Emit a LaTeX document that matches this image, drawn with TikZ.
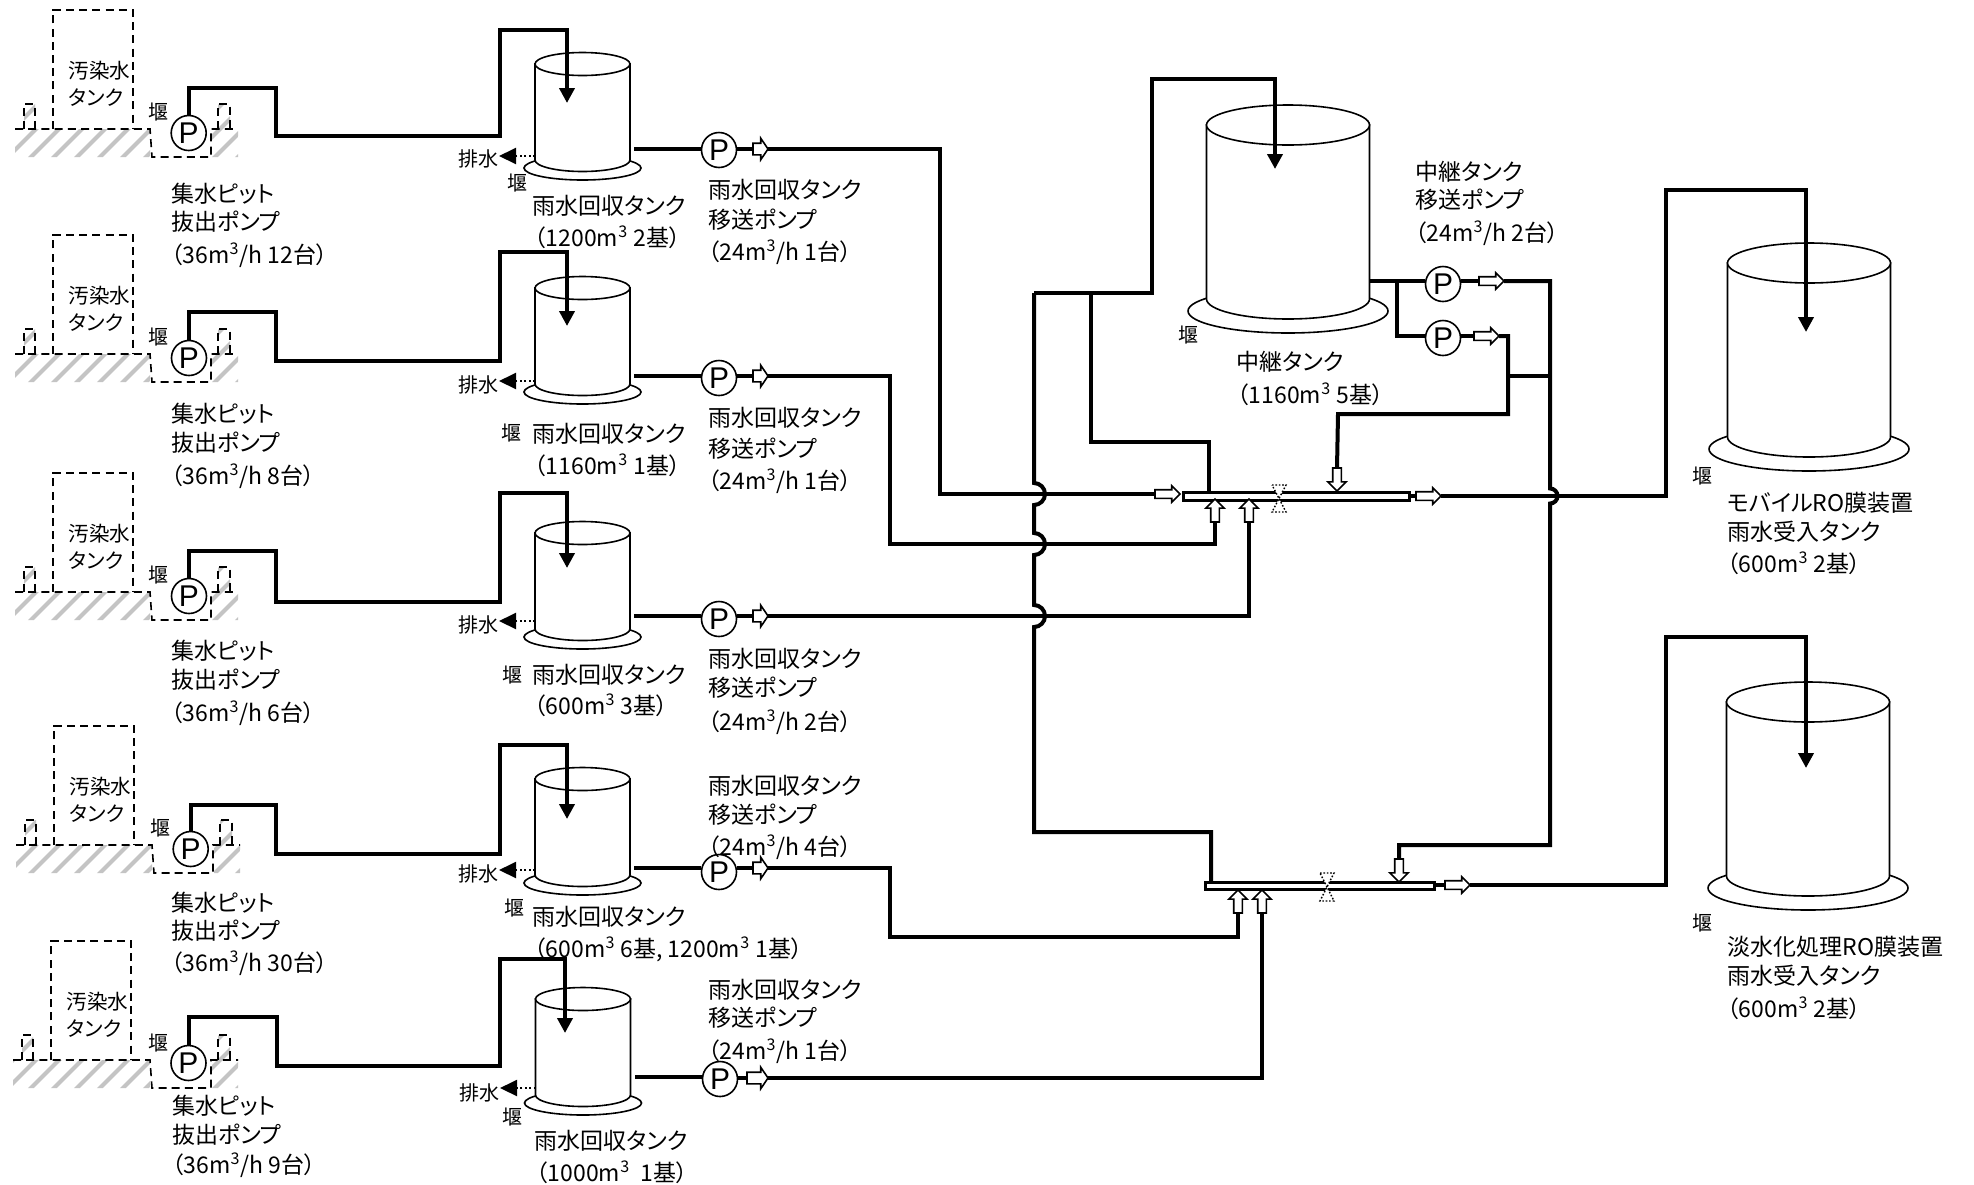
\documentclass[tikz,border=0pt]{standalone}
\usepackage{fontspec}
\setmainfont{Noto Sans CJK JP}[RawFeature={+palt}]
\newfontfamily\pumpfont{Liberation Sans}
\usetikzlibrary{arrows.meta,shapes.arrows}
\definecolor{hatchgray}{HTML}{C4C4C4}
\tikzset{
  pipe/.style={line width=2pt,line join=miter,line cap=butt},
  tipped/.style={-{Triangle[width=7.5pt,length=7.5pt]}},
  tankline/.style={line width=.8pt,fill=white},
  dashline/.style={line width=.8pt,dash pattern=on 4pt off 2.6pt},
  drainline/.style={line width=1pt,dash pattern=on 1pt off 1.2pt,-{Triangle[width=8pt,length=8.5pt]}},
  pump/.style={circle,draw,line width=.8pt,fill=white,inner sep=0pt,minimum size=17.5pt,font=\pumpfont\fontsize{15}{15}\selectfont},
  lbl/.style={anchor=west,inner sep=0pt,font=\fontsize{11.5}{13}\selectfont},
  lbls/.style={anchor=west,inner sep=0pt,font=\fontsize{10.3}{12}\selectfont},
  weir/.style={inner sep=0pt,font=\fontsize{10}{12}\selectfont},
  drn/.style={anchor=east,inner sep=0pt,font=\fontsize{10}{12}\selectfont},
  carrow/.style={single arrow,draw,fill=white,line width=.8pt,inner sep=0pt,outer sep=0pt,anchor=tail,
    minimum height=12.5pt,text height=3.5pt,text depth=0pt,single arrow head extend=2pt,single arrow tip angle=90},
  uarrow/.style={carrow,minimum height=11.5pt,single arrow head extend=2.4pt},
  sarrow/.style={single arrow,draw,fill=white,line width=.8pt,inner sep=0pt,outer sep=0pt,anchor=tail,
    minimum height=7.5pt,text height=5pt,text depth=0pt,single arrow head extend=2.5pt,single arrow tip angle=112},
  header/.style={draw,fill=white,line width=1.5pt,inner sep=0pt},
  valve/.style={line width=.7pt,dash pattern=on .8pt off .9pt,fill=white},
}
% name, cx, top, rx, ry, h, base rx, base offset, base ry
\newcommand\tankshape[9]{%
  \draw[tankline] (#2,#3+#8) ellipse [x radius=#7*0.5pt,y radius=#9*0.5pt];
  \draw[tankline] (#2-#4,#3) -- (#2-#4,#3+#6) arc[start angle=180,end angle=360,x radius=#4*0.5pt,y radius=#5*0.5pt] -- (#2+#4,#3) -- cycle;
  \draw[tankline] (#2,#3) ellipse [x radius=#4*0.5pt,y radius=#5*0.5pt];
  \coordinate (#1) at (#2,#3);
}
\newcommand\rtank[3]{\tankshape{#1}{#2}{#3}{47.5}{11.5}{96}{58.5}{104}{12}}
\newcommand\btank[3]{\tankshape{#1}{#2}{#3}{81.5}{20}{174}{100}{186}{22}}
% id, ground, tank left, pit dx, label ys
\newcommand\srcbox[4]{%
  \begin{scope}
    \clip (#3-38,#2) rectangle (150+#4,#2+28)
          (212+#4,#2) rectangle (238+#4,#2+28)
          (#3-29,#2-25) rectangle (#3-18,#2)
          (218+#4,#2-25) rectangle (230+#4,#2);
    \foreach \k in {-40,-17,...,260} \draw[hatchgray,line width=2pt] (\k,#2+30) -- ++(60,-60);
  \end{scope}
  \draw[dashline] (#3,#2) -- (#3,#2-119) -- (#3+80,#2-119) -- (#3+80,#2);
  \draw[dashline] (#3-38,#2) -- (150+#4,#2) -- (152+#4,#2+28) -- (211+#4,#2+28) -- (211+#4,#2) -- (238+#4,#2);
  \draw[dashline] (#3-29,#2) -- (#3-29,#2-25) -- (#3-18,#2-25) -- (#3-18,#2);
  \draw[dashline] (218+#4,#2) -- (218+#4,#2-25) -- (230+#4,#2-25) -- (230+#4,#2);
  \node[lbls] (sa#1) at (#3+15,#2-58) {汚染水};
  \node[lbls] (sb#1) at (#3+15,#2-31) {タンク};
  \node[weir] (sw#1) at (158+#4,#2-17) {堰};
}
\newcommand\pitlabel[5]{%
  \node[lbl] at (#2,#3) {集水ピット};
  \node[lbl] at (#2,#4) {抜出ポンプ};
  \node[lbl] at (#2,#5) {（36m\textsuperscript{3}/h #1）};
}
\newcommand\xferlabel[4]{%
  \node[lbl] at (708,#2) {雨水回収タンク};
  \node[lbl] at (708,#3) {移送ポンプ};
  \node[lbl] at (708,#4) {（24m\textsuperscript{3}/h #1台）};
}
\begin{document}
\begin{tikzpicture}[x=0.5pt,y=-0.5pt]
\useasboundingbox (0,0) rectangle (1974,1184);
\fill[white] (0,0) rectangle (1974,1184);
% source groups
\srcbox{1}{129}{53}{0}
\srcbox{2}{354}{53}{0}
\srcbox{3}{592}{53}{0}
\srcbox{4}{845}{54}{2}
\srcbox{5}{1060}{51}{0}
\pitlabel{12台}{171}{194}{222}{255}
\pitlabel{8台}{171}{414}{443}{476}
\pitlabel{6台}{171}{651}{680}{713}
\pitlabel{30台}{171}{903}{931}{963}
\pitlabel{9台}{172}{1106}{1135}{1165}
% tanks
\rtank{t1}{582.5}{64}
\rtank{t2}{582.5}{288}
\rtank{t3}{582.5}{533}
\rtank{t4}{582.5}{779}
\rtank{t5}{583}{999}
\btank{t6}{1288}{125}
\btank{t7}{1809}{263}
\btank{t8}{1808}{702}
% source pumps and transfer pumps
\node[pump] (sp1) at (188.7,133) {P};
\node[pump] (sp2) at (189,358) {P};
\node[pump] (sp3) at (189,596) {P};
\node[pump] (sp4) at (190.7,849) {P};
\node[pump] (sp5) at (188.5,1063) {P};
\node[pump] (tp1) at (719,150) {P};
\node[pump] (tp2) at (719,378) {P};
\node[pump] (tp3) at (719,619) {P};
\node[pump] (tp4) at (719,872) {P};
\node[pump] (tp5) at (720,1079) {P};
\node[pump] (rp1) at (1443,284) {P};
\node[pump] (rp2) at (1443,338) {P};
% inlets
\coordinate (ti1) at (567,103);
\coordinate (ti2) at (567,326);
\coordinate (ti3) at (567,568);
\coordinate (ti4) at (567,819);
\coordinate (ti5) at (565,1033);
\draw[pipe,tipped] (sp1.north) |- (276,88) |- (500,136) |- (567,30) -- (ti1);
\draw[pipe,tipped] (sp2.north) |- (276,312) |- (500,361) |- (567,252) -- (ti2);
\draw[pipe,tipped] (sp3.north) |- (276,551) |- (500,602) |- (567,493) -- (ti3);
\draw[pipe,tipped] (sp4.north) |- (276,805) |- (500,854) |- (567,745) -- (ti4);
\draw[pipe,tipped] (sp5.north) |- (277,1017) |- (500,1066) |- (565,959) -- (ti5);
% drains
\node[drn] (dn1) at (499,159) {排水};
\node[drn] (dn2) at (499,385) {排水};
\node[drn] (dn3) at (499,625) {排水};
\node[drn] (dn4) at (499,874) {排水};
\node[drn] (dn5) at (500,1093) {排水};
\coordinate (dr1) at (535,156);
\coordinate (dr2) at (535,381);
\coordinate (dr3) at (535,621);
\coordinate (dr4) at (535,870);
\coordinate (dr5) at (535.5,1088);
\foreach \i in {1,...,5} \draw[drainline] (dr\i) -- (dn\i.east |- dr\i);
% weirs
\node[weir] (w1) at (517,183) {堰};
\node[weir] (w2) at (511,433) {堰};
\node[weir] (w3) at (512,675) {堰};
\node[weir] (w4) at (514,908) {堰};
\node[weir] (w5) at (512,1117) {堰};
\node[weir] (w6) at (1188,335) {堰};
\node[weir] (w7) at (1702,476) {堰};
\node[weir] (w8) at (1702,923) {堰};
% headers
\node[header,minimum width=113pt,minimum height=4pt] (h1) at (1296,496.5) {};
\node[header,minimum width=114.5pt,minimum height=3.5pt] (h2) at (1319.5,886) {};
% outlet arrows
\node[sarrow] (oa1) at (753,149) {};
\node[sarrow] (oa2) at (753,376) {};
\node[sarrow] (oa3) at (753,616) {};
\node[sarrow] (oa4) at (753,868) {};
\node[sarrow,minimum height=10.5pt] (oa5) at (747,1078) {};
\node[carrow] (ra1) at (1479,281) {};
\node[carrow] (ra2) at (1474,336) {};
\node[carrow] (ia1) at (1155,494) {};
\node[uarrow,rotate=90] (ia2) at (1215,522) {};
\node[uarrow,rotate=90] (ia3) at (1249,522) {};
\node[uarrow,rotate=-90] (ia4) at (1337,468) {};
\node[carrow] (oh1) at (1416,496) {};
\node[uarrow,rotate=90] (ib1) at (1238,913) {};
\node[uarrow,rotate=90] (ib2) at (1262,913) {};
\node[uarrow,rotate=-90] (ib3) at (1399,859) {};
\node[carrow] (oh2) at (1445,885) {};
% tank to pump
\foreach \i/\x/\y in {1/634/149,2/634/376,3/634/616,4/634/868,5/635/1077}{
  \draw[pipe] (\x,\y) -- (tp\i.west |- \x,\y);
  \draw[pipe] (tp\i.east |- oa\i.tail) -- (oa\i.tail);
}
% transfer lines
\draw[pipe] (oa1.tip) -- (940,149) -- (940,494) -- (ia1.tail);
\draw[pipe] (oa2.tip) -- (890,376) -- (890,544) -- (1215,544) -- (ia2.tail);
\draw[pipe] (oa3.tip) -- (1249,616) -- (ia3.tail);
\draw[pipe] (oa4.tip) -- (890,868) -- (890,937) -- (1238,937) -- (ib1.tail);
\draw[pipe] (oa5.tip) -- (1262,1078) -- (ib2.tail);
% main vertical with jumps
\coordinate (v2) at (1211,832);
\coordinate (v1) at (1209,442);
\draw[pipe] (1034,293) -- (1034,483) arc[start angle=90,end angle=-90,radius=5.5pt]
  -- (1034,533) arc[start angle=90,end angle=-90,radius=5.5pt]
  -- (1034,605) arc[start angle=90,end angle=-90,radius=5.5pt]
  -- (1034,832) -- (v2) -- (h2.north -| v2);
\coordinate (ti6) at (1275,169);
\draw[pipe,tipped] (1034,293) -- (1152,293) -- (1152,79) -- (1275,79) -- (ti6);
\draw[pipe] (1091,293) -- (1091,442) -- (v1) -- (h1.north -| v1);
% relay tank outlets
\coordinate (br) at (1397,281);
\coordinate (br2) at (1397,336);
\draw[pipe] (1369,281) -- (rp1.west |- br);
\draw[pipe] (rp1.east |- ra1.tail) -- (ra1.tail);
\draw[pipe] (br) -- (br2) -- (rp2.west |- br2);
\draw[pipe] (rp2.east |- ra2.tail) -- (ra2.tail);
\draw[pipe] (ra1.tip) -- (1550,281) -- (1550,488.5) arc[start angle=90,end angle=-90,radius=3.75pt]
  -- (1550,845) -- (1399,845) -- (ib3.tail);
\draw[pipe] (ra2.tip) -- (1508,336) -- (1508,414) -- (1338,414) -- (ia4.tail);
\draw[pipe] (1508,376) -- (1550,376);
% header outlets
\draw[pipe] (h1.east |- oh1.tail) -- (oh1.tail);
\coordinate (ti7) at (1806,332);
\draw[pipe,tipped] (oh1.tip) -- (1666,496) -- (1666,190) -- (1806,190) -- (ti7);
\draw[pipe] (h2.east |- oh2.tail) -- (oh2.tail);
\coordinate (ti8) at (1806,768);
\draw[pipe,tipped] (oh2.tip) -- (1666,885) -- (1666,637) -- (1806,637) -- (ti8);
% valves
\draw[valve] (1272,485) -- (1286,485) -- (1272,512) -- (1286,512) -- cycle;
\draw[valve] (1320,873) -- (1334,873) -- (1320,901) -- (1334,901) -- cycle;
% texts: rain tanks
\node[lbl] at (532,206) {雨水回収タンク};
\node[lbl] at (534,237) {（1200m\textsuperscript{3} 2基）};
\node[lbl] at (532,434) {雨水回収タンク};
\node[lbl] at (534,465) {（1160m\textsuperscript{3} 1基）};
\node[lbl] at (532,675) {雨水回収タンク};
\node[lbl] at (534,705) {（600m\textsuperscript{3} 3基）};
\node[lbl] at (532,917) {雨水回収タンク};
\node[lbl] at (534,949) {（600m\textsuperscript{3} 6基, 1200m\textsuperscript{3} 1基）};
\node[lbl] at (534,1141) {雨水回収タンク};
\node[lbl] at (536,1172) {（1000m\textsuperscript{3}\ \ 1基）};
\xferlabel{1}{190}{220}{252}
\xferlabel{1}{418}{449}{481}
\xferlabel{2}{659}{688}{722}
\xferlabel{4}{786}{815}{847}
\xferlabel{1}{990}{1018}{1051}
% texts: relay
\node[lbl] at (1236,362) {中継タンク};
\node[lbl] at (1237,394) {（1160m\textsuperscript{3} 5基）};
\node[lbl] at (1415,172) {中継タンク};
\node[lbl] at (1415,200) {移送ポンプ};
\node[lbl] at (1415,233) {（24m\textsuperscript{3}/h 2台）};
% texts: right tanks
\node[lbl] at (1727,503) {モバイルRO膜装置};
\node[lbl] at (1727,532) {雨水受入タンク};
\node[lbl] at (1727,563) {（600m\textsuperscript{3} 2基）};
\node[lbl] at (1727,947) {淡水化処理RO膜装置};
\node[lbl] at (1727,976) {雨水受入タンク};
\node[lbl] at (1727,1008) {（600m\textsuperscript{3} 2基）};
\end{tikzpicture}
\end{document}
